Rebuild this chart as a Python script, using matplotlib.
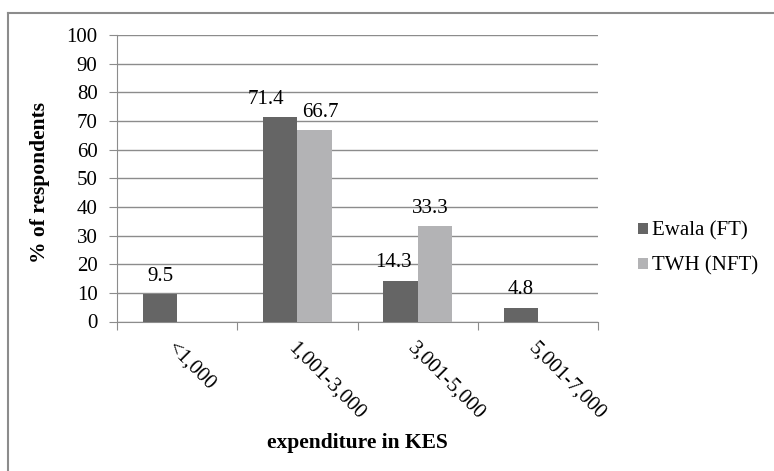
import matplotlib
matplotlib.use("Agg")
import matplotlib.pyplot as plt
import numpy as np
from matplotlib.lines import Line2D

categories = ["<1,000", "1,001-3,000", "3,001-5,000", "5,001-7,000"]
series_names = ["Ewala (FT)", "TWH (NFT)"]
ewala = [9.5, 71.4, 14.3, 4.8]
twh = [0, 66.7, 33.3, 0]
ewala_labels = ["9.5", "71.4", "14.3", "4.8"]
twh_labels = [None, "66.7", "33.3", None]
y_ticks = list(range(0, 101, 10))

# horizontal nudges (points) of data labels, as placed in the original
ewala_dx = [0, -10, -5, 0]
twh_dx = [0, 4, -3, 0]

plt.rcParams['font.family'] = ['Liberation Serif', 'DejaVu Serif']

W, H = 774, 471
fig = plt.figure(figsize=(W/100, H/100), dpi=100)
ax = fig.add_axes([117/W, 1-321.5/H, (598-117)/W, (321.5-35)/H])

c1, c2 = "#656565", "#b3b3b5"
grid_c = "#8c8c8c"
x = np.arange(len(categories))
bw = 0.285
b1 = ax.bar(x - bw/2, ewala, bw, color=c1, label=series_names[0], zorder=3)
b2 = ax.bar(x + bw/2, twh, bw, color=c2, label=series_names[1], zorder=3)

for bars, labels, dxs in ((b1, ewala_labels, ewala_dx), (b2, twh_labels, twh_dx)):
    for rect, lab, dx in zip(bars, labels, dxs):
        if lab:
            ax.annotate(lab, (rect.get_x() + rect.get_width()/2, rect.get_height()),
                        xytext=(dx, 6), textcoords="offset points",
                        ha="center", va="bottom", fontsize=15)

ax.set_xlim(-0.5, len(categories) - 0.5)
ax.set_ylim(0, 100)
ax.set_yticks(y_ticks)
ax.set_yticklabels([str(t) for t in y_ticks], fontsize=15)
ax.yaxis.grid(True, color=grid_c, lw=1, zorder=0)
ax.set_axisbelow(True)

ax.set_xticks(np.arange(len(categories) + 1) - 0.5)
ax.set_xticklabels([])
ax.set_xticks(x, minor=True)
ax.set_xticklabels(categories, minor=True, rotation=-45, ha="left", va="top",
                   rotation_mode="anchor", fontsize=15)
ax.tick_params(axis="x", which="minor", length=0, pad=12)
ax.tick_params(axis="x", which="major", length=6, color=grid_c, direction="out")
ax.tick_params(axis="y", length=6, color=grid_c, direction="out", pad=8)

for s in ["top", "right"]:
    ax.spines[s].set_visible(False)
for s in ["left", "bottom"]:
    ax.spines[s].set_color(grid_c)

ax.set_ylabel("% of respondents", fontsize=15.5, fontweight="bold")
ax.yaxis.set_label_coords((50 - 117)/(598 - 117), 0.486)
fig.text(357/W, 1 - 443/H, "expenditure in KES", ha="center", va="center",
         fontsize=15.5, fontweight="bold")

leg = ax.legend(loc="center left", bbox_to_anchor=(628/W, 1 - 248.5/H),
                bbox_transform=fig.transFigure, frameon=False, fontsize=15,
                handlelength=0.45, handleheight=0.45, handletextpad=0.2,
                labelspacing=0.75, borderpad=0)

# outer frame (left and top edges visible)
fig.add_artist(Line2D([7.5/W, 7.5/W], [0, 1 - 13/H], transform=fig.transFigure,
                      color=grid_c, lw=1.5))
fig.add_artist(Line2D([7.5/W, 1], [1 - 13/H, 1 - 13/H], transform=fig.transFigure,
                      color=grid_c, lw=1.5))

fig.savefig("out.png", dpi=100)
